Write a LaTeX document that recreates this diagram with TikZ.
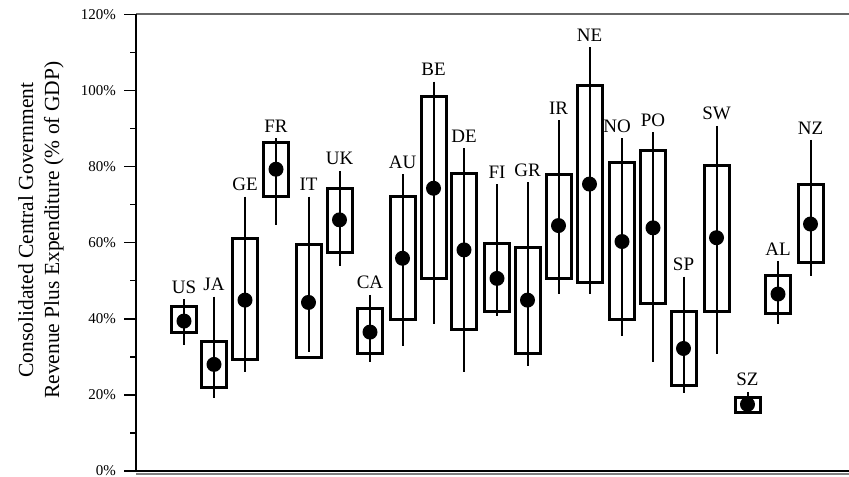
\documentclass[tikz,border=0pt]{standalone}
\usepackage{fontspec}
\setmainfont{Liberation Serif}
\usepackage{tikz}
\usetikzlibrary{positioning}

\begin{document}
\begin{tikzpicture}[x=1pt, y=3.805pt,
                whisker/.style={line width=2pt},
                candle/.style={line width=3pt},
                dot/.style={circle, fill=black, inner sep=0pt, minimum size=15pt},
                country/.style={inner sep=0pt, font=\fontsize{19}{19}\selectfont},
                ticklabel/.style={anchor=east, inner sep=0pt, font=\fontsize{15}{15}\selectfont}
                ]
                \useasboundingbox (0,-1.577) rectangle (849,123.78);
                % frame: axis on the left, grey rule on top, double rule below
                \coordinate (o) at (136,0);
                \coordinate (t) at (136,120);
                \draw[line width=2pt, gray!80!black] (t) -- (849,120);
                \draw[line width=1.6pt] (o) -- (849,0);
                \draw[line width=1.4pt, gray] (136,-0.8) -- (849,-0.8);
                \draw[line width=2pt] (o) -- (t);
                \foreach \v in {0,20,...,120} {
                  \draw[line width=1.5pt] (124,\v) -- (136,\v);
                  \node[ticklabel] (tick\v) at (116,\v) {\v\%};
                }
                \foreach \v in {10,30,...,110}
                  \draw[line width=1.5pt] (130,\v) -- (136,\v);
                \node[rotate=90, align=center, inner sep=0pt,
                      font=\fontsize{21.5}{26}\selectfont] (ylab) at (41,63.3)
                  {Consolidated Central Government\\Revenue Plus Expenditure (\% of GDP)};
                % name / x / whisker top / whisker bottom / box top / box bottom / dot / label shift
                \foreach \cname/\cx/\wt/\wb/\bt/\bb/\md/\lx in {
                    US/184/45.1/33.1/43.1/36.3/39.4/0,
                    JA/214/45.8/19.1/34.0/21.9/28.0/0,
                    GE/245/72.1/25.9/61.0/29.4/44.9/0,
                    FR/276/87.4/64.7/86.4/72.1/79.3/0,
                    IT/308.5/72.1/31.2/59.4/29.9/44.3/0,
                    UK/339.5/78.9/54.0/74.3/57.4/66.0/0,
                    CA/370/46.3/28.7/42.6/30.9/36.5/0,
                    AU/402.5/78.0/32.9/72.1/39.9/55.9/0,
                    BE/433.5/102.3/38.6/98.4/50.5/74.3/0,
                    DE/464/84.8/25.9/78.2/37.2/58.1/0,
                    FI/497/75.3/40.8/59.8/42.0/50.6/0,
                    GR/527.5/75.9/27.7/58.8/30.9/44.9/0,
                    IR/558.5/92.2/46.5/77.8/50.5/64.5/0,
                    NE/589.5/111.4/46.5/101.2/49.5/75.4/0,
                    NO/622/87.4/35.5/81.0/39.9/60.3/-5,
                    PO/653/89.0/28.6/84.2/44.1/63.9/0,
                    SP/683.5/51.1/20.6/42.0/22.4/32.2/0,
                    SW/716.5/90.7/30.7/80.4/41.9/61.3/0,
                    SZ/747.5/20.8/14.9/19.3/15.4/17.5/0,
                    AL/778/55.2/38.6/51.5/41.4/46.5/0,
                    NZ/810.5/87.0/51.3/75.2/54.7/64.9/0} {
                  \coordinate (\cname-hi) at (\cx,\wt);
                  \coordinate (\cname-lo) at (\cx,\wb);
                  \draw[whisker] (\cname-hi) -- (\cname-lo);
                  \draw[candle] (\cx-12.5,\bt) rectangle (\cx+12.5,\bb);
                  \node[dot] (\cname-mid) at (\cx,\md) {};
                  \node[country, above=5.5pt of \cname-hi, xshift=\lx pt] (\cname) {\cname};
                }
            \end{tikzpicture}
\end{document}
